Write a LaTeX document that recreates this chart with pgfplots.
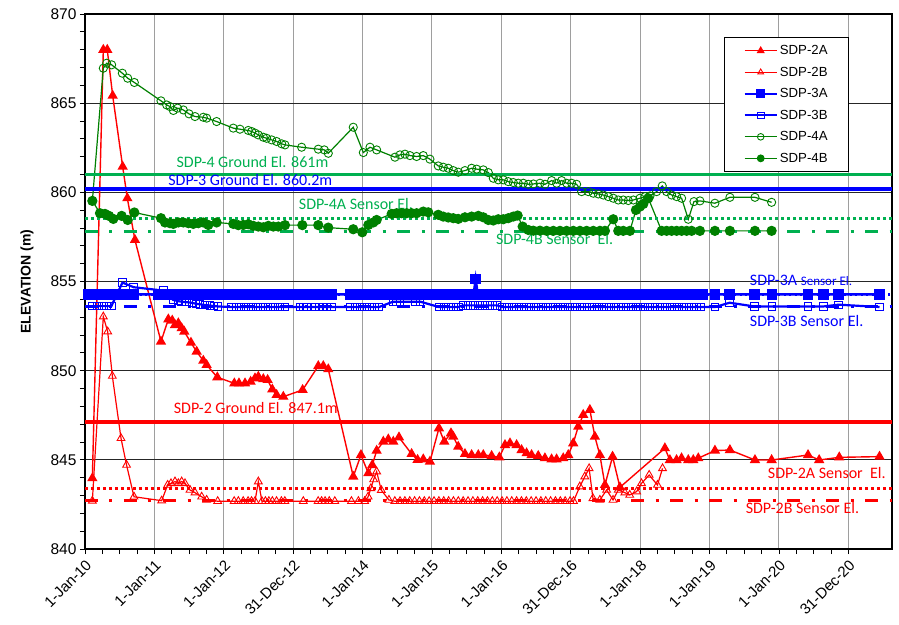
\documentclass[border=0pt]{standalone}
\usepackage{fontspec}
\setmainfont{Liberation Sans}
\newfontfamily\calib{Carlito}
\usepackage{pgfplots}
\pgfplotsset{compat=1.18}
\definecolor{sred}{RGB}{255,0,0}
\definecolor{sblue}{RGB}{0,0,255}
\definecolor{sgreen}{RGB}{0,128,0}
\definecolor{lgreen}{RGB}{0,176,80}
\begin{document}
\begin{tikzpicture}
\begin{axis}[
 scale only axis, width=807pt, height=535pt,
 xmin=0, xmax=11.63, ymin=840, ymax=870,
 xtick={0,1,2,3,4,5,6,7,8,9,10,11},
 xticklabels={1-Jan-10,1-Jan-11,1-Jan-12,31-Dec-12,1-Jan-14,1-Jan-15,1-Jan-16,31-Dec-16,1-Jan-18,1-Jan-19,1-Jan-20,31-Dec-20},
 minor x tick num=3,
 ytick={840,845,850,855,860,865,870}, minor y tick num=4,
 tick align=outside, major tick length=5pt, minor tick length=5pt,
 xtick pos=bottom, ytick pos=left,
 tick style={black, line width=0.8pt},
 axis line style={line width=1.8pt},
 xmajorgrids, ymajorgrids,
 x grid style={black!38, line width=1pt},
 y grid style={black!85, line width=0.8pt},
 x tick label style={rotate=45, anchor=north east, font=\fontsize{15}{17}\selectfont},
 y tick label style={font=\fontsize{15.5}{17}\selectfont, /pgf/number format/assume math mode=true, /pgf/number format/1000 sep={}},
 ylabel={ELEVATION (m)},
 ylabel style={at={(axis description cs:-0.072,0.5)}, anchor=center, font=\bfseries\fontsize{14}{16}\selectfont},
 legend style={at={(0.9467,0.957)}, anchor=north east, draw=black, line width=0.8pt, fill=white,
   font=\fontsize{13.2}{15}\selectfont, row sep=6.8pt, inner xsep=19pt, inner ysep=6pt},
 legend cell align=left,
 legend image code/.code={\draw[mark repeat=2,mark phase=2] plot coordinates {(0pt,0pt) (16pt,0pt) (32pt,0pt)};},
 legend image post style={mark size=3.3pt},
]
\coordinate (o) at (rel axis cs:0,0);
% ---------------- SDP-2A
\addplot[sred, line width=1.4pt, mark=triangle*, mark size=4.6pt, mark options={solid}] coordinates {
(0.106,843.97)(0.264,867.99)(0.321,867.99)(0.399,865.42)(0.543,861.44)(0.610,859.67)(0.720,857.33)
(1.095,851.63)(1.201,852.88)(1.258,852.81)(1.297,852.56)(1.345,852.66)(1.393,852.38)(1.431,852.19)
(1.527,851.57)(1.609,851.07)(1.705,850.56)(1.753,850.32)(1.907,849.63)(2.152,849.29)(2.219,849.29)
(2.306,849.29)(2.387,849.38)(2.450,849.57)(2.498,849.66)(2.570,849.53)(2.632,849.48)(2.699,848.95)
(2.762,848.64)(2.858,848.54)(3.136,848.92)(3.362,850.26)(3.434,850.26)(3.506,850.08)(3.866,844.06)
(3.977,845.27)(4.083,844.25)(4.140,844.71)(4.203,845.51)(4.299,846.02)(4.371,846.15)(4.443,846.02)
(4.525,846.26)(4.707,845.33)(4.793,845.00)(4.875,845.03)(4.971,844.90)(5.101,846.77)(5.178,846.02)
(5.274,846.49)(5.307,846.30)(5.379,845.74)(5.476,845.33)(5.572,845.27)(5.668,845.27)(5.740,845.27)
(5.860,845.22)(5.971,845.14)(6.053,845.83)(6.125,845.93)(6.220,845.83)(6.292,845.55)(6.364,845.37)
(6.436,845.27)(6.532,845.22)(6.628,845.09)(6.724,845.03)(6.796,845.03)(6.892,845.09)(6.964,845.27)
(7.036,845.93)(7.108,846.86)(7.180,847.52)(7.276,847.80)(7.348,846.30)(7.420,845.27)(7.493,843.59)
(7.603,845.18)(7.709,843.46)(8.357,845.65)(8.429,844.99)(8.525,844.99)(8.597,845.09)(8.694,844.99)
(8.766,844.99)(8.838,845.09)(9.078,845.52)(9.294,845.55)(9.655,844.99)(9.895,844.99)(10.42,845.27)
(10.58,844.99)(10.87,845.14)(11.45,845.18)};
\addlegendentry{SDP-2A}
% ---------------- SDP-2B
\addplot[sred, line width=1.2pt, mark=triangle, mark size=4.5pt, mark options={solid, line width=0.9pt}] coordinates {
(0.106,842.70)(0.264,853.03)(0.327,852.19)(0.394,849.70)(0.519,846.21)(0.599,844.71)(0.706,842.93)
(1.105,842.71)(1.191,843.59)(1.239,843.68)(1.297,843.78)(1.345,843.68)(1.393,843.78)(1.441,843.68)
(1.513,843.31)(1.585,843.16)(1.681,842.93)(1.753,842.75)(1.912,842.68)
(2.15,842.68)(2.21,842.68)(2.28,842.68)(2.35,842.68)(2.40,842.68)(2.45,842.68)(2.498,843.78)
(2.55,842.68)(2.60,842.68)(2.65,842.68)(2.70,842.68)(2.76,842.68)(2.83,842.68)(2.88,842.68)
(3.146,842.68)(3.36,842.68)(3.41,842.68)(3.46,842.68)(3.52,842.68)(3.60,842.68)
(3.84,842.68)(3.94,842.68)(4.03,842.68)(4.08,842.93)(4.12,843.40)(4.16,843.90)(4.203,844.34)
(4.27,843.30)(4.38,842.75)(4.465,842.68)
(4.54,842.68)(4.61,842.68)(4.68,842.68)(4.75,842.68)(4.82,842.68)(4.89,842.68)(4.96,842.68)
(5.03,842.68)(5.10,842.68)(5.17,842.68)(5.24,842.68)(5.31,842.68)(5.38,842.68)(5.45,842.68)
(5.52,842.68)(5.59,842.68)(5.66,842.68)(5.73,842.68)(5.80,842.68)(5.87,842.68)(5.94,842.68)
(6.01,842.68)(6.08,842.68)(6.15,842.68)(6.22,842.68)(6.29,842.68)(6.36,842.68)(6.43,842.68)
(6.50,842.68)(6.57,842.68)(6.64,842.68)(6.71,842.68)(6.78,842.68)(6.85,842.68)(6.92,842.68)
(6.99,842.68)(7.04,842.68)
(7.131,843.50)(7.203,844.06)(7.265,844.52)(7.32,842.84)(7.42,842.75)(7.517,843.31)(7.61,842.75)
(7.685,843.31)(7.78,843.16)(7.85,843.03)(7.95,843.22)(8.02,843.68)(8.13,844.15)(8.25,843.59)(8.323,844.52)};
\addlegendentry{SDP-2B}
% ---------------- SDP-3A
\addplot[sblue, line width=2.4pt, mark=square*, mark size=4.1pt, mark options={solid}] coordinates {
(0.05,854.28)(0.10,854.28)(0.15,854.28)(0.20,854.28)(0.25,854.28)(0.30,854.28)(0.35,854.28)
(0.40,854.28)(0.45,854.28)(0.50,854.28)(0.55,854.28)(0.60,854.28)(0.65,854.28)(0.70,854.28)
(1.05,854.28)(1.10,854.28)(1.15,854.28)(1.20,854.28)(1.25,854.28)(1.30,854.28)(1.35,854.28)
(1.40,854.28)(1.45,854.28)(1.50,854.28)(1.55,854.28)(1.60,854.28)(1.65,854.28)(1.70,854.28)
(1.75,854.28)(1.80,854.28)(1.85,854.28)(1.90,854.28)(1.95,854.28)
(2.10,854.28)(2.15,854.28)(2.20,854.28)(2.25,854.28)(2.30,854.28)(2.35,854.28)(2.40,854.28)
(2.45,854.28)(2.50,854.28)(2.55,854.28)(2.60,854.28)(2.65,854.28)(2.70,854.28)(2.75,854.28)
(2.80,854.28)(2.85,854.28)(2.90,854.28)(2.95,854.28)
(3.10,854.28)(3.15,854.28)(3.20,854.28)
(3.31,854.28)(3.36,854.28)(3.41,854.28)(3.46,854.28)(3.51,854.28)(3.56,854.28)
(3.82,854.28)(3.87,854.28)(3.92,854.28)(3.97,854.28)(4.02,854.28)(4.07,854.28)(4.12,854.28)
(4.17,854.28)(4.22,854.28)
(4.32,854.28)(4.37,854.28)(4.42,854.28)(4.47,854.28)(4.52,854.28)(4.57,854.28)
(4.65,854.28)(4.70,854.28)(4.75,854.28)(4.80,854.28)(4.85,854.28)(4.90,854.28)(4.95,854.28)
(5.00,854.28)(5.05,854.28)(5.10,854.28)(5.15,854.28)(5.20,854.28)(5.25,854.28)(5.30,854.28)
(5.35,854.28)(5.40,854.28)(5.45,854.28)(5.50,854.28)(5.55,854.28)(5.60,854.28)(5.63,855.14)
(5.66,854.28)(5.70,854.28)(5.75,854.28)(5.80,854.28)(5.85,854.28)(5.90,854.28)(5.95,854.28)
(6.00,854.28)(6.05,854.28)(6.10,854.28)(6.15,854.28)(6.20,854.28)(6.25,854.28)(6.30,854.28)
(6.35,854.28)(6.40,854.28)(6.45,854.28)(6.50,854.28)(6.55,854.28)(6.60,854.28)(6.65,854.28)
(6.70,854.28)(6.75,854.28)(6.80,854.28)(6.85,854.28)(6.90,854.28)(6.95,854.28)(7.00,854.28)
(7.05,854.28)(7.10,854.28)(7.15,854.28)(7.20,854.28)(7.25,854.28)(7.30,854.28)(7.35,854.28)
(7.40,854.28)(7.45,854.28)(7.50,854.28)(7.55,854.28)(7.60,854.28)(7.65,854.28)(7.70,854.28)
(7.75,854.28)(7.80,854.28)(7.85,854.28)(7.90,854.28)(7.95,854.28)(8.00,854.28)(8.05,854.28)
(8.10,854.28)(8.15,854.28)(8.20,854.28)(8.25,854.28)(8.30,854.28)(8.35,854.28)(8.40,854.28)
(8.45,854.28)(8.50,854.28)(8.55,854.28)(8.60,854.28)(8.65,854.28)(8.70,854.28)(8.75,854.28)
(8.80,854.28)(8.85,854.28)(8.90,854.28)
(9.08,854.28)(9.29,854.28)(9.65,854.28)(9.90,854.28)(10.42,854.28)(10.64,854.28)(10.86,854.28)(11.45,854.28)};
\addlegendentry{SDP-3A}
% ---------------- SDP-3B
\addplot[sblue, line width=2.2pt, mark=square, mark size=3.7pt, mark options={solid, line width=0.9pt}] coordinates {
(0.10,853.62)(0.17,853.62)(0.24,853.62)(0.31,853.62)(0.38,853.62)(0.54,854.94)(0.70,854.68)
(1.13,854.49)(1.27,853.97)(1.34,853.90)(1.39,853.87)(1.46,853.84)(1.54,853.81)(1.60,853.75)
(1.66,853.72)(1.73,853.68)(1.80,853.65)(1.86,853.62)(1.92,853.60)
(2.11,853.57)(2.18,853.57)(2.25,853.57)(2.32,853.57)(2.39,853.57)(2.46,853.57)(2.53,853.57)
(2.60,853.57)(2.67,853.57)(2.74,853.57)(2.81,853.57)(2.88,853.57)
(3.10,853.57)(3.15,853.57)(3.19,853.57)
(3.31,853.57)(3.37,853.57)(3.43,853.57)(3.49,853.57)(3.55,853.57)
(3.82,853.57)(3.89,853.57)(3.96,853.57)(4.03,853.57)(4.10,853.57)(4.17,853.57)(4.24,853.57)
(4.44,853.87)(4.49,853.87)(4.54,853.87)(4.76,853.87)(4.83,853.87)
(5.10,853.57)(5.17,853.57)(5.24,853.57)(5.31,853.57)(5.38,853.57)
(5.45,853.66)(5.52,853.66)(5.59,853.66)(5.66,853.66)(5.73,853.66)(5.80,853.66)(5.87,853.66)(5.94,853.66)
(6.01,853.57)(6.08,853.57)(6.15,853.57)(6.22,853.57)(6.29,853.57)(6.36,853.57)(6.43,853.57)
(6.50,853.57)(6.57,853.57)(6.64,853.57)(6.71,853.57)(6.78,853.57)(6.85,853.57)(6.92,853.57)
(6.99,853.57)(7.06,853.57)(7.13,853.57)(7.20,853.57)(7.27,853.57)(7.34,853.57)(7.41,853.57)
(7.48,853.57)(7.55,853.57)(7.62,853.57)(7.69,853.57)(7.76,853.57)(7.83,853.57)(7.90,853.57)
(7.97,853.57)(8.04,853.57)(8.11,853.57)(8.18,853.57)(8.25,853.57)(8.32,853.57)(8.39,853.57)
(8.46,853.57)(8.53,853.57)(8.60,853.57)(8.67,853.57)(8.74,853.57)(8.81,853.57)(8.88,853.57)
(9.08,853.57)(9.29,853.81)(9.65,853.60)(9.90,853.60)(10.42,853.60)(10.64,853.60)(10.86,853.70)(11.45,853.57)};
\addlegendentry{SDP-3B}
% ---------------- SDP-4A
\addplot[sgreen, line width=1.2pt, mark=o, mark size=4.1pt, mark options={solid, line width=0.9pt}] coordinates {
(0.106,859.52)(0.264,866.96)(0.312,867.24)(0.384,867.15)(0.538,866.68)(0.615,866.40)(0.711,866.16)
(1.095,865.13)(1.177,864.90)(1.225,864.81)(1.273,864.59)(1.335,864.72)(1.417,864.62)(1.499,864.40)
(1.585,864.25)(1.705,864.21)(1.753,864.16)(1.897,863.97)(2.137,863.60)(2.233,863.54)(2.353,863.47)
(2.402,863.41)(2.450,863.32)(2.498,863.22)(2.570,863.09)(2.618,863.03)(2.690,862.94)(2.762,862.85)
(2.834,862.72)(2.882,862.66)(3.122,862.53)(3.362,862.42)(3.449,862.38)(3.506,862.19)(3.866,863.65)
(4.011,862.23)(4.107,862.53)(4.203,862.38)(4.467,861.97)(4.539,862.10)(4.611,862.14)(4.683,862.06)
(4.779,862.01)(4.875,862.06)(4.971,861.86)(5.091,861.48)(5.163,861.41)(5.235,861.35)(5.307,861.22)
(5.379,861.13)(5.476,861.22)(5.572,861.35)(5.644,861.30)(5.740,861.26)(5.812,861.11)(5.884,860.79)
(5.956,860.70)(6.028,860.70)(6.100,860.60)(6.172,860.55)(6.244,860.51)(6.317,860.51)(6.389,860.45)
(6.461,860.47)(6.557,860.51)(6.629,860.45)(6.725,860.66)(6.797,860.51)(6.869,860.66)(6.941,860.51)
(7.013,860.51)(7.085,860.45)(7.157,860.04)(7.253,860.04)(7.325,859.95)(7.397,859.91)(7.469,859.85)
(7.541,859.76)(7.613,859.67)(7.685,859.57)(7.757,859.57)(7.830,859.54)(7.902,859.57)(7.998,859.67)
(8.070,859.76)(8.142,859.80)(8.238,860.04)(8.319,860.36)(8.382,860.04)(8.454,859.85)(8.526,859.76)
(8.598,859.67)(8.694,858.49)(8.776,859.48)(8.862,859.52)(9.078,859.39)(9.294,859.72)(9.655,859.72)
(9.895,859.44)};
\addlegendentry{SDP-4A}
% ---------------- SDP-4B
\addplot[sgreen, line width=1.2pt, mark=*, mark size=4.5pt, mark options={solid}] coordinates {
(0.106,859.52)(0.216,858.83)(0.288,858.79)(0.346,858.68)(0.408,858.51)(0.528,858.68)(0.615,858.45)
(0.711,858.87)(1.095,858.55)(1.153,858.31)(1.225,858.27)(1.273,858.23)(1.345,858.31)(1.417,858.31)
(1.489,858.27)(1.561,858.23)(1.633,858.27)(1.705,858.31)(1.777,858.17)(1.897,858.31)(2.137,858.23)
(2.209,858.16)(2.281,858.17)(2.353,858.21)(2.426,858.12)(2.498,858.08)(2.570,858.04)(2.642,858.12)
(2.714,858.08)(2.786,858.08)(2.882,858.16)(3.132,858.16)(3.362,858.16)(3.506,858.02)(3.866,857.93)
(3.996,857.76)(4.083,858.17)(4.155,858.31)(4.203,858.45)(4.419,858.79)(4.491,858.83)(4.563,858.83)
(4.635,858.83)(4.707,858.83)(4.779,858.83)(4.875,858.92)(4.947,858.88)(5.091,858.74)(5.163,858.64)
(5.235,858.59)(5.307,858.55)(5.379,858.51)(5.476,858.60)(5.572,858.64)(5.668,858.68)(5.740,858.60)
(5.812,858.45)(5.884,858.42)(5.956,858.49)(6.028,858.49)(6.100,858.55)(6.172,858.64)(6.235,858.70)
(6.307,858.08)(6.389,857.89)(6.461,857.85)(6.557,857.85)(6.653,857.84)(6.749,857.84)(6.845,857.84)
(6.941,857.84)(7.037,857.84)(7.133,857.84)(7.229,857.84)(7.325,857.84)(7.421,857.84)(7.493,857.84)
(7.613,858.49)(7.685,857.84)(7.757,857.84)(7.853,857.84)(7.940,859.01)(7.998,859.20)(8.046,859.35)
(8.118,859.67)(8.310,857.84)(8.382,857.84)(8.454,857.84)(8.526,857.84)(8.598,857.84)(8.670,857.84)
(8.742,857.84)(8.862,857.84)(9.078,857.84)(9.294,857.84)(9.655,857.84)(9.895,857.84)};
\addlegendentry{SDP-4B}
% ---------------- reference lines
\addplot[lgreen, line width=3.3pt, forget plot] coordinates {(0,861)(11.63,861)};
\addplot[sblue, line width=4pt, forget plot] coordinates {(0,860.2)(11.63,860.2)};
\addplot[lgreen, line width=2.8pt, dash pattern=on 2.8pt off 3.2pt, forget plot] coordinates {(0,858.52)(11.63,858.52)};
\addplot[lgreen, line width=3pt, dash pattern=on 13pt off 11.5pt on 3pt off 11.5pt, forget plot] coordinates {(0,857.8)(11.63,857.8)};
\addplot[sblue, line width=2.5pt, dash pattern=on 2pt off 3.5pt, forget plot] coordinates {(0,854.28)(11.63,854.28)};
\addplot[sblue, line width=2.5pt, dash pattern=on 13pt off 11.5pt on 3pt off 11.5pt, forget plot] coordinates {(0,853.6)(11.63,853.6)};
\addplot[sred, line width=4pt, forget plot] coordinates {(0,847.1)(11.63,847.1)};
\addplot[sred, line width=2.8pt, dash pattern=on 2.8pt off 3.2pt, forget plot] coordinates {(0,843.4)(11.63,843.4)};
\addplot[sred, line width=3pt, dash pattern=on 13pt off 11.5pt on 3pt off 11.5pt, forget plot] coordinates {(0,842.7)(11.63,842.7)};
% ---------------- annotations
\node[anchor=base, text=lgreen, font=\calib\fontsize{16}{18}\selectfont] at (axis cs:2.414,861.41) {SDP-4 Ground El. 861m};
\node[anchor=base, text=sblue, font=\calib\fontsize{16}{18}\selectfont] at (axis cs:2.382,860.38) {SDP-3 Ground El. 860.2m};
\node[anchor=base, text=lgreen, font=\calib\fontsize{16}{18}\selectfont] at (axis cs:3.905,859.01) {SDP-4A Sensor El.};
\node[anchor=base, text=lgreen, font=\calib\fontsize{16}{18}\selectfont] at (axis cs:6.768,857.09) {SDP-4B Sensor~~El.};
\node[anchor=base west, text=sblue, font=\calib\fontsize{16}{18}\selectfont, inner sep=0pt] at (axis cs:9.58,854.75) {SDP-3A {\fontsize{13}{15}\selectfont Sensor El.}};
\node[anchor=base west, text=sblue, font=\calib\fontsize{16}{18}\selectfont, inner sep=0pt] at (axis cs:9.58,852.50) {SDP-3B Sensor El.};
\node[anchor=base, text=sred, font=\calib\fontsize{16}{18}\selectfont] at (axis cs:2.462,847.61) {SDP-2 Ground El. 847.1m};
\node[anchor=base, text=sred, font=\calib\fontsize{16}{18}\selectfont] at (axis cs:10.69,843.93) {SDP-2A Sensor~~El.};
\node[anchor=base, text=sred, font=\calib\fontsize{16}{18}\selectfont] at (axis cs:10.34,842.00) {SDP-2B Sensor El.};
\end{axis}
\pgfresetboundingbox
\path[use as bounding box] (o) ++(-85pt,-75pt) rectangle ++(899pt,624pt);
\end{tikzpicture}
\end{document}
